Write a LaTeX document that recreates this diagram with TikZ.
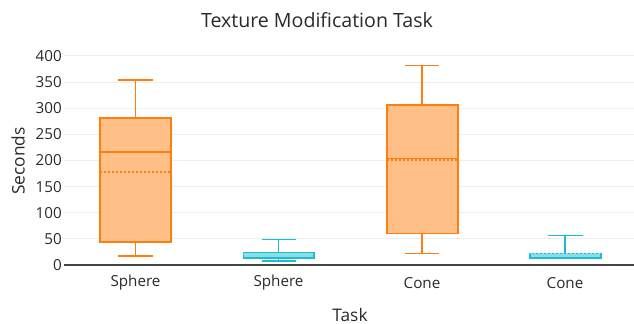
\documentclass[tikz,border=0pt]{standalone}
\usepackage{fontspec}
\setmainfont{Open Sans}
\definecolor{og}{HTML}{FF7F0E}
\definecolor{ogfill}{HTML}{FFBF87}
\definecolor{cy}{HTML}{17BECF}
\definecolor{cyfill}{HTML}{8BDEE7}
\definecolor{grid}{HTML}{EEEEEE}
\definecolor{axiscol}{HTML}{444444}
\definecolor{txt}{HTML}{2A2A2A}
\tikzset{
  gridline/.style={draw=grid, line width=0.75pt},
  ticklbl/.style={anchor=east, inner sep=0pt, font=\fontsize{11.4pt}{13pt}\selectfont, text=txt},
  catlbl/.style={anchor=center, inner sep=0pt, font=\fontsize{11.4pt}{13pt}\selectfont, text=txt},
  obox/.style={draw=og, fill=ogfill, line width=1.2pt},
  owhisk/.style={draw=og, line width=1.2pt},
  omean/.style={draw=og, line width=1.2pt, dash pattern=on 1.5pt off 1.5pt},
  cbox/.style={draw=cy, fill=cyfill, line width=1.2pt},
  cwhisk/.style={draw=cy, line width=1.2pt},
  cmean/.style={draw=cy!50!white, line width=1.2pt, dash pattern=on 1.5pt off 1.5pt},
}
\begin{document}
\begin{tikzpicture}[x=0.75pt,y=-0.75pt]
\useasboundingbox (0,0) rectangle (634,324);
\foreach \v in {50,100,...,400} {
  \draw[gridline] (64,{265-0.5225*\v}) -- (634,{265-0.5225*\v});
}
\foreach \v in {0,50,...,400} {
  \node[ticklbl] (t\v) at (62,{265-0.5225*\v}) {\v};
}
\draw[draw=axiscol, line width=0.9pt] (64,265) -- (634,265);
% title and axis titles
\node[font=\fontsize{14.7pt}{17pt}\selectfont, text=txt] (title) at (317,20) {Texture Modification Task};
\node[font=\fontsize{13pt}{15pt}\selectfont, text=txt, rotate=90] (ylab) at (18,161) {Seconds};
\node[font=\fontsize{13pt}{15pt}\selectfont, text=txt] (xlab) at (350,315) {Task};
% category labels
\node[catlbl] (c1) at (135.5,283) {Sphere};
\node[catlbl] (c2) at (278.5,283) {Sphere};
\node[catlbl] (c3) at (422,283) {Cone};
\node[catlbl] (c4) at (565,283) {Cone};
% box 1: Sphere orange
\draw[owhisk] (135.5,80) -- (135.5,118.3);
\draw[owhisk] (135.5,241.7) -- (135.5,255.7);
\draw[owhisk] (118,80) -- (152.7,80);
\draw[owhisk] (118,255.7) -- (152.7,255.7);
\draw[obox] (100,118.3) rectangle (170.7,241.7);
\draw[owhisk] (100,151.7) -- (170.7,151.7);
\draw[omean] (100,171.7) -- (170.7,171.7);
% box 3: Cone orange
\draw[owhisk] (422,65.7) -- (422,105);
\draw[owhisk] (422,233.3) -- (422,253.3);
\draw[owhisk] (405,65.7) -- (439.3,65.7);
\draw[owhisk] (405,253.3) -- (439.3,253.3);
\draw[obox] (386.7,105) rectangle (457.7,233.3);
\draw[owhisk] (386.7,158.3) -- (457.7,158.3);
\draw[omean] (386.7,160) -- (457.7,160);
% box 2: Sphere cyan
\draw[cwhisk] (278.5,239.3) -- (278.5,252.3);
\draw[cwhisk] (278.5,257.7) -- (278.5,261);
\draw[cwhisk] (261.7,239.3) -- (296,239.3);
\draw[cwhisk] (261.7,261) -- (296,261);
\draw[cbox] (243.3,252.3) rectangle (314,257.7);
\draw[cmean] (243.3,254.5) -- (314,254.5);
% box 4: Cone cyan
\draw[cwhisk] (565,235.3) -- (565,253.3);
\draw[cwhisk] (548.3,235.3) -- (582.7,235.3);
\draw[cwhisk] (548.3,258.5) -- (582.7,258.5);
\draw[cbox] (530,253.3) rectangle (600.7,257.7);
\draw[cmean] (530,253.3) -- (600.7,253.3);
\end{tikzpicture}
\end{document}
